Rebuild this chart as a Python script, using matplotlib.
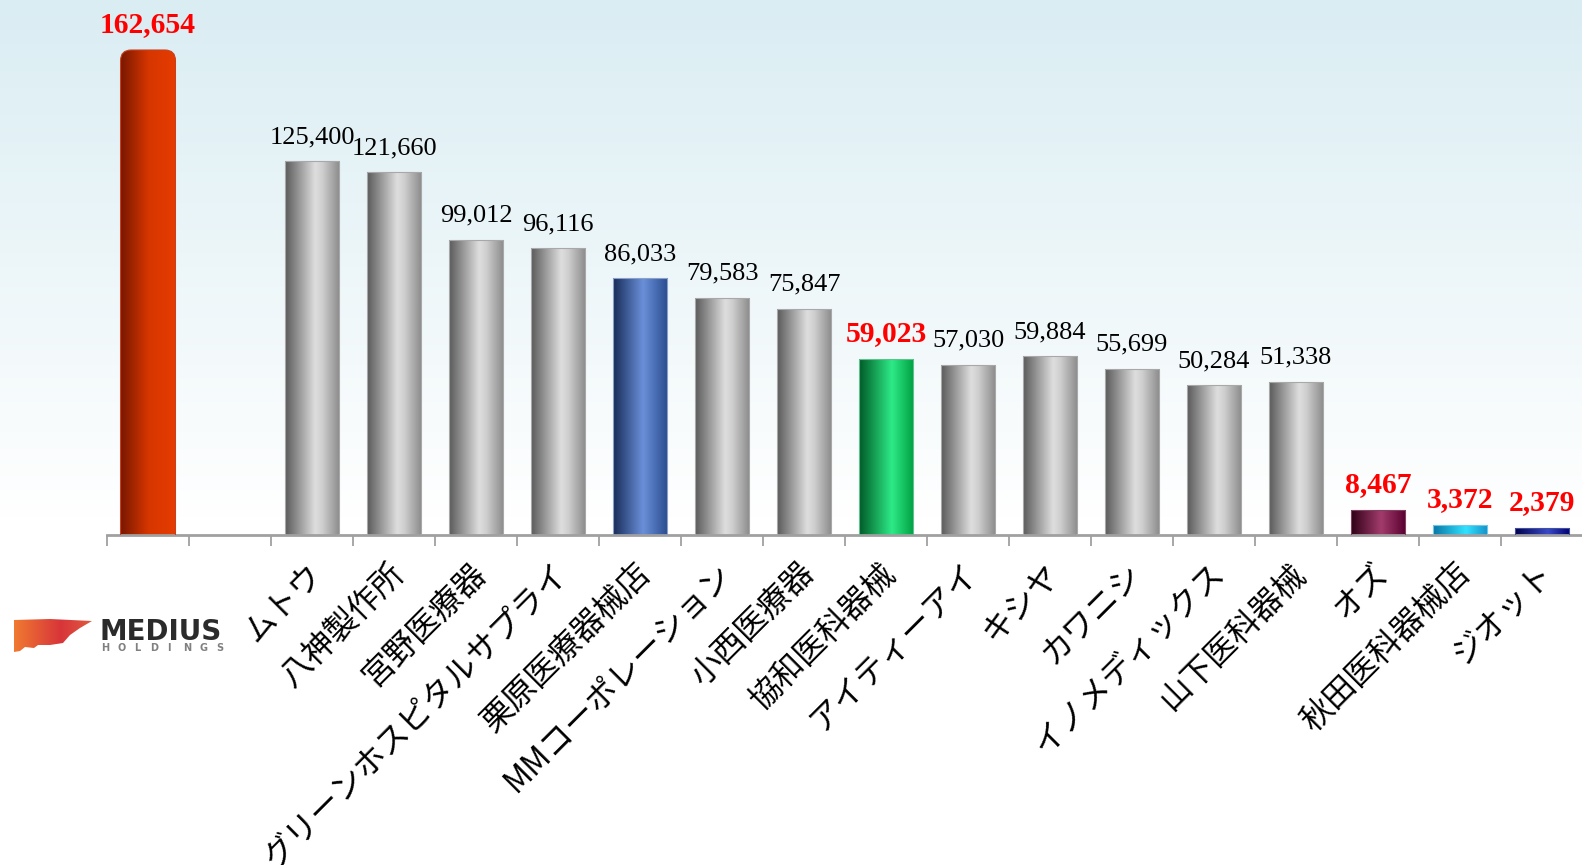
import numpy as np
import matplotlib
matplotlib.use('Agg')
import matplotlib.pyplot as plt
from matplotlib.colors import LinearSegmentedColormap
from matplotlib.patches import FancyBboxPatch, Rectangle, Polygon
from matplotlib.transforms import ScaledTranslation

# data
companies = ['MEDIUS', '', 'ムトウ', '八神製作所', '宮野医療器', 'グリーンホスピタルサプライ',
             '栗原医療器械店', 'MMコーポレーション', '小西医療器', '協和医科器械',
             'アイティーアイ', 'キシヤ', 'カワニシ', 'イノメディックス', '山下医科器械',
             'オズ', '秋田医科器械店', 'ジオット']
sales = [162654, np.nan, 125400, 121660, 99012, 96116, 86033, 79583, 75847, 59023,
         57030, 59884, 55699, 50284, 51338, 8467, 3372, 2379]
bar_style = ['red', None, 'gray', 'gray', 'gray', 'gray', 'blue', 'gray', 'gray', 'green',
             'gray', 'gray', 'gray', 'gray', 'gray', 'maroon', 'cyan', 'navy']
red_label = [True, False, False, False, False, False, False, False, False, True,
             False, False, False, False, False, True, True, True]

# cylinder-ish gradients, left -> right
gradients = {
    'gray':   [(0, '#5a5a5a'), (0.55, '#dedede'), (0.68, '#cfcfcf'), (1, '#8a8a8a')],
    'red':    [(0, '#7a1800'), (0.5, '#d63600'), (1, '#e63c00')],
    'blue':   [(0, '#172c58'), (0.55, '#6b90da'), (1, '#294c8e')],
    'green':  [(0, '#005a26'), (0.6, '#2eea88'), (1, '#00a040')],
    'maroon': [(0, '#2e0016'), (0.55, '#a23c6c'), (1, '#580030')],
    'cyan':   [(0, '#0875a5'), (0.6, '#32e2ff'), (1, '#1590c8')],
    'navy':   [(0, '#00004a'), (0.6, '#3a4ac8'), (1, '#000070')],
}
edge_col = {'gray': '#a8a8a8', 'red': '#c84020', 'blue': '#8aa0c8', 'green': '#60c090',
            'maroon': '#804060', 'cyan': '#70c8e8', 'navy': '#4050a0'}

W, H = 1582, 865
fig = plt.figure(figsize=(W / 100, H / 100), dpi=100)

# background wash
bg = fig.add_axes([0, 0, 1, 1], zorder=-1)
bg_cmap = LinearSegmentedColormap.from_list('bg', [(0, '#daedf3'), (0.6, '#ffffff'), (1, '#ffffff')])
bg.imshow(np.linspace(0, 1, 256).reshape(-1, 1), cmap=bg_cmap, aspect='auto',
          extent=[0, 1, 0, 1], origin='upper')
bg.axis('off')

ax = fig.add_axes([107 / W, (H - 535) / H, 1476 / W, 535 / H])
ax.set_facecolor('none')
ymax = 162654 * 535 / 485
grad = np.linspace(0, 1, 256).reshape(1, -1)
bw = 0.67
rx = 0.13
ry = rx * (ymax / 535) / (1 / 82)

for i, (v, st) in enumerate(zip(sales, bar_style)):
    if st is None or np.isnan(v):
        continue
    x0 = i - bw / 2
    cmap = LinearSegmentedColormap.from_list(st, gradients[st])
    if st == 'red':
        patch = FancyBboxPatch((x0, -ry), bw, v + ry, boxstyle=f'round,pad=0,rounding_size={rx}',
                               mutation_aspect=ry / rx)
        y0 = -ry
    else:
        patch = Rectangle((x0, 0), bw, v)
        y0 = 0
    patch.set(facecolor='none', edgecolor=edge_col[st], lw=0.8, zorder=3)
    ax.add_patch(patch)
    im = ax.imshow(grad, cmap=cmap, extent=[x0, x0 + bw, y0, v], aspect='auto',
                   interpolation='bicubic', zorder=2)
    im.set_clip_path(patch)

    if red_label[i]:
        ax.annotate(f'{v:,.0f}', xy=(i, v), xytext=(0, 18), textcoords='offset pixels',
                    ha='center', va='baseline', fontsize=21.3, fontweight='bold',
                    color='#ff0000', family='Liberation Serif')
    else:
        ax.annotate(f'{v:,.0f}', xy=(i, v), xytext=(0, 18), textcoords='offset pixels',
                    ha='center', va='baseline', fontsize=19, color='black',
                    family='Liberation Serif')

ax.set_xlim(-0.5, len(companies) - 0.5)
ax.set_ylim(0, ymax)
ax.set_yticks([])
for s in ['left', 'top', 'right']:
    ax.spines[s].set_visible(False)
ax.spines['bottom'].set_color('#a0a0a0')
ax.spines['bottom'].set_linewidth(2)

tick_labels = [''] + companies[1:]
ax.set_xticks(range(len(companies)))
ax.set_xticklabels(tick_labels, rotation=45, ha='right', va='top', rotation_mode='anchor',
                   fontsize=23, family=['Noto Sans CJK JP', 'DejaVu Sans'])
ax.set_xticks(np.arange(-0.5, len(companies), 1), minor=True)
ax.tick_params(axis='x', which='major', length=0, pad=16)
ax.tick_params(axis='x', which='minor', length=8, width=1.3, color='#a0a0a0')
for lab in ax.get_xticklabels():
    lab.set_transform(lab.get_transform() + ScaledTranslation(-6 / 100, 0, fig.dpi_scale_trans))

# MEDIUS HOLDINGS logo (first category)
logo = fig.add_axes([0, (H - 665) / H, 240 / W, 60 / H])
logo.axis('off')
shape = Polygon([(14, 620), (50, 619), (92, 621), (80, 628), (70, 635), (63, 643),
                 (50, 645), (38, 645), (34, 648), (25, 647), (20, 651), (14, 652)],
                closed=True, facecolor='none', edgecolor='none')
logo.add_patch(shape)
logo_cmap = LinearSegmentedColormap.from_list('logo', [(0, '#f07a30'), (0.6, '#d8353a'),
                                                       (1, '#e05a40')])
lim = logo.imshow(grad, cmap=logo_cmap, extent=[14, 92, 652, 619], aspect='auto')
lim.set_clip_path(shape)
logo.set_xlim(0, 240)
logo.set_ylim(665, 605)
logo.text(99, 640, 'MEDIUS', fontsize=20, fontweight='bold', color='#2b2b2b',
          family='DejaVu Sans', va='baseline', ha='left')
for x, ch in zip(np.linspace(101, 216, 8), 'HOLDINGS'):
    logo.text(x, 651, ch, fontsize=7, fontweight='bold', color='#808080',
              family='DejaVu Sans', va='baseline', ha='left')

fig.savefig('out.png', dpi=100)
